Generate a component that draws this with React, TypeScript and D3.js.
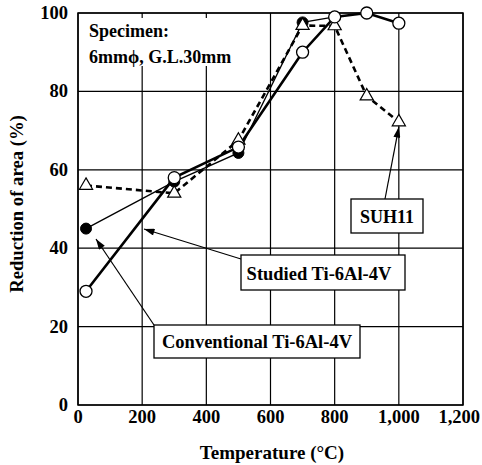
import React from "react";
import * as d3 from "d3";

const W = 482;
const H = 465;

const xTicks = [0, 200, 400, 600, 800, 1000, 1200];
const yTicks = [0, 20, 40, 60, 80, 100];

const studiedTemp = [25, 300, 500, 700, 800, 900, 1000];
const studiedRA = [29, 58, 65.8, 90, 99, 100, 97.4];

const convTemp = [25, 300, 500, 700, 800];
const convRA = [45, 57, 64.3, 97.6, 99];

const suhTemp = [25, 300, 500, 700, 800, 900, 1000];
const suhRA = [56, 54, 67.5, 96.8, 96.7, 78.8, 72.2];

const FONT = "'Liberation Serif', 'Times New Roman', serif";

export default function App() {
  const x = d3.scaleLinear().domain([0, 1200]).range([78, 463]);
  const y = d3.scaleLinear().domain([0, 100]).range([405, 13]);
  const fmt = d3.format(",");

  const line = d3
    .line<[number, number]>()
    .x((d) => x(d[0]))
    .y((d) => y(d[1]));

  const studied = studiedTemp.map((t, i) => [t, studiedRA[i]] as [number, number]);
  const conv = convTemp.map((t, i) => [t, convRA[i]] as [number, number]);
  const suh = suhTemp.map((t, i) => [t, suhRA[i]] as [number, number]);

  const tri = d3.symbol().type(d3.symbolTriangle).size(75)();

  return (
    <svg
      width={W}
      height={H}
      style={{ position: "absolute", left: 0, top: 0, background: "#fff" }}
      fontFamily={FONT}
      fontWeight="bold"
    >
      <defs>
        <marker
          id="ah"
          viewBox="0 0 12 8"
          refX="12"
          refY="4"
          markerWidth="12"
          markerHeight="7"
          markerUnits="userSpaceOnUse"
          orient="auto"
        >
          <path d="M0,0 L12,4 L0,8 Z" fill="#000" />
        </marker>
      </defs>
      <rect x={0} y={0} width={W} height={H} fill="#fff" />

      {/* grid */}
      {xTicks.map((t) => (
        <line key={"gx" + t} x1={x(t)} x2={x(t)} y1={y(0)} y2={y(100)} stroke="#000" strokeWidth={1.2} />
      ))}
      {yTicks.map((t) => (
        <line key={"gy" + t} x1={x(0)} x2={x(1200)} y1={y(t)} y2={y(t)} stroke="#000" strokeWidth={1.2} />
      ))}

      {/* specimen label background */}
      <rect x={x(0) + 1} y={y(100) + 1} width={160} height={52} fill="#fff" />
      {xTicks
        .filter((t) => t > 0 && x(t) < x(0) + 162)
        .map((t) => (
          <line key={"tt" + t} x1={x(t)} x2={x(t)} y1={y(100)} y2={y(100) + 5} stroke="#000" strokeWidth={1.2} />
        ))}
      <text x={89} y={37} fontSize={18}>Specimen:</text>
      <text x={89} y={63} fontSize={18}>6mmϕ, G.L.30mm</text>

      {/* frame */}
      <rect x={x(0)} y={y(100)} width={x(1200) - x(0)} height={y(0) - y(100)} fill="none" stroke="#000" strokeWidth={1.5} />

      {/* axis tick labels */}
      {xTicks.map((t, i) => {
        const last = i === xTicks.length - 1;
        return (
          <text
            key={"xl" + t}
            x={last ? 480 : x(t)}
            y={423}
            fontSize={18.5}
            textAnchor={last ? "end" : "middle"}
          >
            {fmt(t)}
          </text>
        );
      })}
      {yTicks.map((t) => (
        <text key={"yl" + t} x={68} y={y(t) + 6} fontSize={18.5} textAnchor="end">
          {t}
        </text>
      ))}
      <text x={272} y={459} fontSize={19} textAnchor="middle">
        Temperature (°C)
      </text>
      <text
        transform={`translate(23,204) rotate(-90)`}
        fontSize={18.7}
        textAnchor="middle"
      >
        Reduction of area (%)
      </text>

      {/* lines */}
      <path d={line(suh) || ""} fill="none" stroke="#000" strokeWidth={2.6} strokeDasharray="6,4" />
      <path d={line(conv) || ""} fill="none" stroke="#000" strokeWidth={1.3} />
      <path d={line(studied) || ""} fill="none" stroke="#000" strokeWidth={2.6} />

      {/* markers */}
      {conv.map((d, i) => (
        <circle key={"c" + i} cx={x(d[0])} cy={y(d[1])} r={5.5} fill="#000" stroke="#000" />
      ))}
      {suh.map((d, i) => (
        <path
          key={"s" + i}
          d={tri || ""}
          transform={`translate(${x(d[0])},${y(d[1])})`}
          fill="#fff"
          stroke="#000"
          strokeWidth={1.2}
        />
      ))}
      {studied.map((d, i) => (
        <circle key={"o" + i} cx={x(d[0])} cy={y(d[1])} r={6} fill="#fff" stroke="#000" strokeWidth={1.3} />
      ))}

      {/* annotation arrows */}
      <line x1={385} y1={199} x2={x(1000)} y2={y(72.2) + 5} stroke="#000" strokeWidth={1.2} markerEnd="url(#ah)" />
      <line x1={241} y1={259} x2={144} y2={229} stroke="#000" strokeWidth={1.2} markerEnd="url(#ah)" />
      <line x1={154} y1={325} x2={96} y2={239} stroke="#000" strokeWidth={1.2} markerEnd="url(#ah)" />

      {/* annotation boxes */}
      <rect x={351} y={199} width={72} height={34} fill="#fff" stroke="#000" strokeWidth={1.3} />
      <text x={387} y={223} fontSize={18} textAnchor="middle">SUH11</text>
      <rect x={241} y={255} width={164} height={35} fill="#fff" stroke="#000" strokeWidth={1.3} />
      <text x={319} y={280} fontSize={18.5} textAnchor="middle">Studied Ti-6Al-4V</text>
      <rect x={154} y={325} width={206} height={33} fill="#fff" stroke="#000" strokeWidth={1.3} />
      <text x={257} y={348} fontSize={18.5} textAnchor="middle">Conventional Ti-6Al-4V</text>
    </svg>
  );
}
